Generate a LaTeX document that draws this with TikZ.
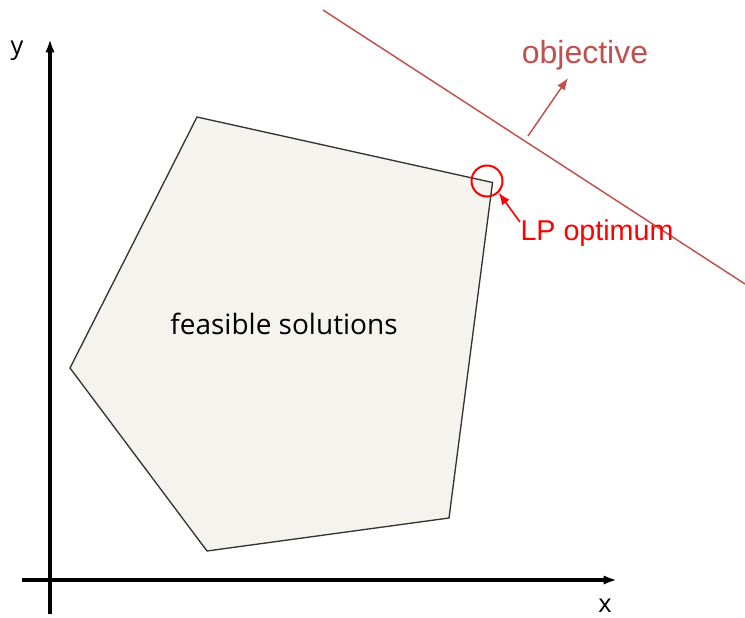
\documentclass[tikz,border=0pt]{standalone}
\usepackage{fontspec}
\setmainfont{Liberation Sans}
\newfontfamily\opensans{Open Sans}
\usetikzlibrary{arrows.meta}
\definecolor{objred}{HTML}{C0504D}
\definecolor{feasfill}{HTML}{F4F3EE}
\definecolor{polyline}{HTML}{333333}
\tikzset{
  axis/.style={line width=2.4pt,-{Latex[length=10pt,width=7pt]}},
  region/.style={draw=polyline,fill=feasfill,line width=1pt,line join=miter},
  objline/.style={draw=objred,line width=1.1pt},
  objarrow/.style={draw=objred,fill=objred,line width=1.1pt,-{Latex[length=9pt,width=7pt]}},
  optarrow/.style={draw=red,line width=1.2pt,-{Latex[length=9pt,width=7pt]}},
  lbl/.style={inner sep=0pt,font=\opensans\fontsize{19}{22}\selectfont},
}
\begin{document}
\begin{tikzpicture}[x=0.75pt,y=-0.75pt]
\useasboundingbox (0,0) rectangle (745,617);
% axes
\coordinate (xs) at (22,580);
\coordinate (xe) at (617,580);
\coordinate (ys) at (50,614);
\coordinate (ye) at (50,39);
\draw[axis] (xs) -- (xe);
\draw[axis] (ys) -- (ye);
\node[lbl] (xl) at (605,606) {x};
\node[lbl] (yl) at (17,51) {y};
% feasible region
\coordinate (v1) at (197,117);
\coordinate (v2) at (492.5,182.5);
\coordinate (v3) at (449,518);
\coordinate (v4) at (207,551);
\coordinate (v5) at (70,368);
\draw[region] (v1) -- (v2) -- (v3) -- (v4) -- (v5) -- cycle;
\node[inner sep=0pt,font=\opensans\fontsize{21}{25}\selectfont] (feas) at (284,324) {feasible solutions};
% objective
\coordinate (o1) at (323,10);
\coordinate (o2) at (745,284);
\draw[objline] (o1) -- (o2);
\coordinate (oa) at (528,136);
\coordinate (ob) at (568,78);
\draw[objarrow] (oa) -- (ob);
\node[inner sep=0pt,text=objred,font=\fontsize{24}{28}\selectfont] (obj) at (585,55) {objective};
% LP optimum
\node[draw=red,circle,line width=1.5pt,minimum size=31pt*0.75,inner sep=0pt] (opt) at (487,181) {};
\node[inner sep=0pt,text=red,font=\fontsize{21.5}{26}\selectfont] (lp) at (597,233) {LP optimum};
\coordinate (lpa) at (520,222);
\draw[optarrow] (lpa) -- (opt.south east);
\end{tikzpicture}
\end{document}
